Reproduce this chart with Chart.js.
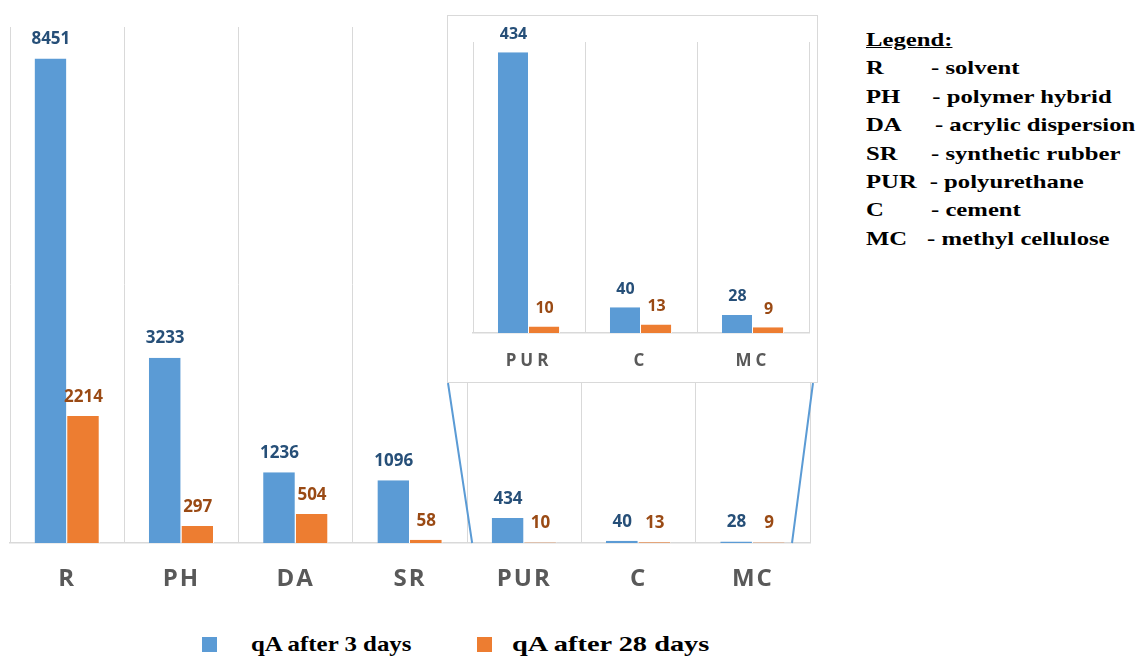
<!DOCTYPE html>
<html>
<head>
<meta charset="utf-8">
<script src="https://cdn.jsdelivr.net/npm/chart.js@4.4.1/dist/chart.umd.min.js"></script>
<style>
  html, body { margin: 0; padding: 0; background: #fff; }
  body { width: 1137px; height: 656px; position: relative; overflow: hidden; }
  #main { position: absolute; left: 0; top: 0; }
  #insetBox { position: absolute; left: 447px; top: 15px; width: 369px; height: 366px;
              border: 1px solid #d9d9d9; background: #fff; }
  #inset { position: absolute; left: 0; top: 0; }
  #notes { position: absolute; left: 866px; top: 26px; font: bold 19px "Liberation Serif", serif;
           color: #000; line-height: 28.4px; transform-origin: 0 0; transform: scaleX(1.3); white-space: nowrap; }
  #notes .head { text-decoration: underline; }
  #notes .ab { display: inline-block; }
  #legend { position: absolute; left: 0; top: 631px; font: bold 22px "Liberation Serif", serif; color: #000; }
  #legend .item { position: absolute; top: 0; white-space: nowrap; }
  #legend .sw { position: absolute; top: 6px; width: 15px; height: 15px; }
  #legend .tx { position: absolute; top: 0; transform-origin: 0 0; }
</style>
</head>
<body>
<canvas id="main" width="830" height="600"></canvas>
<div id="insetBox"><canvas id="inset" width="369" height="366"></canvas></div>
<div id="notes"></div>
<div id="legend"></div>

<script>
// Adhesive groups and qA values
const categories = ['R', 'PH', 'DA', 'SR', 'PUR', 'C', 'MC'];
const qA3days  = [8451, 3233, 1236, 1096, 434, 40, 28];
const qA28days = [2214, 297, 504, 58, 10, 13, 9];
const seriesNames = ['qA after 3 days', 'qA after 28 days'];

// Detail view covers the three smallest groups
const insetFrom = 4;

// Abbreviation key
const keyTitle = 'Legend:';
const keyAbbr = ['R', 'PH', 'DA', 'SR', 'PUR', 'C', 'MC'];
const keyText = ['- solvent', '- polymer hybrid', '- acrylic dispersion', '- synthetic rubber',
                 '- polyurethane', '- cement', '- methyl cellulose'];
const keyIndent = [50, 51, 53, 50, 49, 50, 47];

const barColors = ['#5b9bd5', '#ed7d31'];
const tagColors = ['#264f78', '#9a4a14'];
const catFont = '"Open Sans", sans-serif';

// Value tags above every bar
const valueTags = {
  id: 'valueTags',
  afterDatasetsDraw(chart, args, opts) {
    const ctx = chart.ctx;
    ctx.save();
    ctx.letterSpacing = '0px';
    ctx.font = opts.font;
    ctx.textAlign = 'center';
    ctx.textBaseline = 'middle';
    chart.data.datasets.forEach((ds, di) => {
      const meta = chart.getDatasetMeta(di);
      ctx.fillStyle = tagColors[di];
      meta.data.forEach((bar, i) => {
        ctx.fillText(String(ds.data[i]), bar.x, bar.y - opts.offset);
      });
    });
    ctx.restore();
  }
};

// Spaced-out category names
const spacedTicks = {
  id: 'spacedTicks',
  beforeDraw(chart, args, opts) { chart.ctx.letterSpacing = opts.spacing; },
  beforeDatasetsDraw(chart) { chart.ctx.letterSpacing = '0px'; }
};

// Lines joining the detail box to the PUR..MC region
const zoomLines = {
  id: 'zoomLines',
  afterDraw(chart) {
    const ctx = chart.ctx;
    const x = chart.scales.x;
    const y0 = chart.chartArea.bottom;
    const half = (x.getPixelForValue(1) - x.getPixelForValue(0)) / 2;
    const left = x.getPixelForValue(insetFrom) - half + 5;
    const right = x.getPixelForValue(categories.length - 1) + half - 18;
    ctx.save();
    ctx.strokeStyle = '#5b9bd5';
    ctx.lineWidth = 2;
    ctx.beginPath();
    ctx.moveTo(left, y0); ctx.lineTo(448, 383);
    ctx.moveTo(right, y0); ctx.lineTo(813, 383);
    ctx.stroke();
    ctx.restore();
  }
};

function makeDatasets(a, b) {
  return [
    { label: seriesNames[0], data: a, backgroundColor: barColors[0] },
    { label: seriesNames[1], data: b, backgroundColor: barColors[1] }
  ];
}

function baseOptions(cfg) {
  return {
    responsive: false,
    animation: false,
    devicePixelRatio: 1,
    layout: { padding: cfg.padding },
    datasets: { bar: { barPercentage: 1, categoryPercentage: cfg.catPct,
                       borderWidth: { left: 0, top: 0, bottom: 0, right: 1 }, borderColor: '#ffffff' } },
    plugins: {
      legend: { display: false },
      tooltip: { enabled: false },
      valueTags: { font: cfg.tagFont, offset: cfg.tagOffset },
      spacedTicks: { spacing: cfg.spacing }
    },
    scales: {
      x: {
        grid: { display: true, offset: true, drawTicks: false, color: cfg.gridColor, lineWidth: 1 },
        border: { display: true, color: '#d9d9d9', width: 1.5 },
        ticks: { color: '#595959', font: { family: catFont, weight: 'bold', size: cfg.tickSize }, padding: cfg.tickPad },
        afterFit(scale) { scale.height = cfg.axisHeight; }
      },
      y: { display: false, min: 0, max: cfg.yMax }
    }
  };
}

new Chart(document.getElementById('main'), {
  type: 'bar',
  data: { labels: categories, datasets: makeDatasets(qA3days, qA28days) },
  options: baseOptions({
    padding: { left: 10, right: 20, top: 27, bottom: 0 },
    catPct: 0.57, tagFont: 'bold 17px "Open Sans", sans-serif', tagOffset: 19,
    spacing: '2px', gridColor: '#d9d9d9', tickSize: 24, tickPad: 22, axisHeight: 57, yMax: 9000
  }),
  plugins: [valueTags, spacedTicks, zoomLines]
});

new Chart(document.getElementById('inset'), {
  type: 'bar',
  data: {
    labels: categories.slice(insetFrom),
    datasets: makeDatasets(qA3days.slice(insetFrom), qA28days.slice(insetFrom))
  },
  options: baseOptions({
    padding: { left: 25, right: 8, top: 26, bottom: 0 },
    catPct: 0.555, tagFont: 'bold 16px "Open Sans", sans-serif', tagOffset: 18,
    spacing: '4px',
    gridColor: (c) => (c.index === categories.length - insetFrom ? 'rgba(0,0,0,0)' : '#d9d9d9'),
    tickSize: 17, tickPad: 18, axisHeight: 49, yMax: 450
  }),
  plugins: [valueTags, spacedTicks]
});

// Abbreviation key text
const notes = document.getElementById('notes');
let html = '<div class="head">' + keyTitle + '</div>';
keyAbbr.forEach((a, i) => {
  html += '<div><span class="ab" style="width:' + keyIndent[i] + 'px">' + a + '</span>' + keyText[i] + '</div>';
});
notes.innerHTML = html;

// Series legend under the chart
const legend = document.getElementById('legend');
const legendX = [202, 477];
const textX = [49, 35];
const textStretch = [1.13, 1.29];
seriesNames.forEach((name, i) => {
  const item = document.createElement('div');
  item.className = 'item';
  item.style.left = legendX[i] + 'px';
  item.innerHTML = '<span class="sw" style="left:0;background:' + barColors[i] + '"></span>' +
                   '<span class="tx" style="left:' + textX[i] + 'px;transform:scaleX(' + textStretch[i] + ')">' + name + '</span>';
  legend.appendChild(item);
});
</script>
</body>
</html>
